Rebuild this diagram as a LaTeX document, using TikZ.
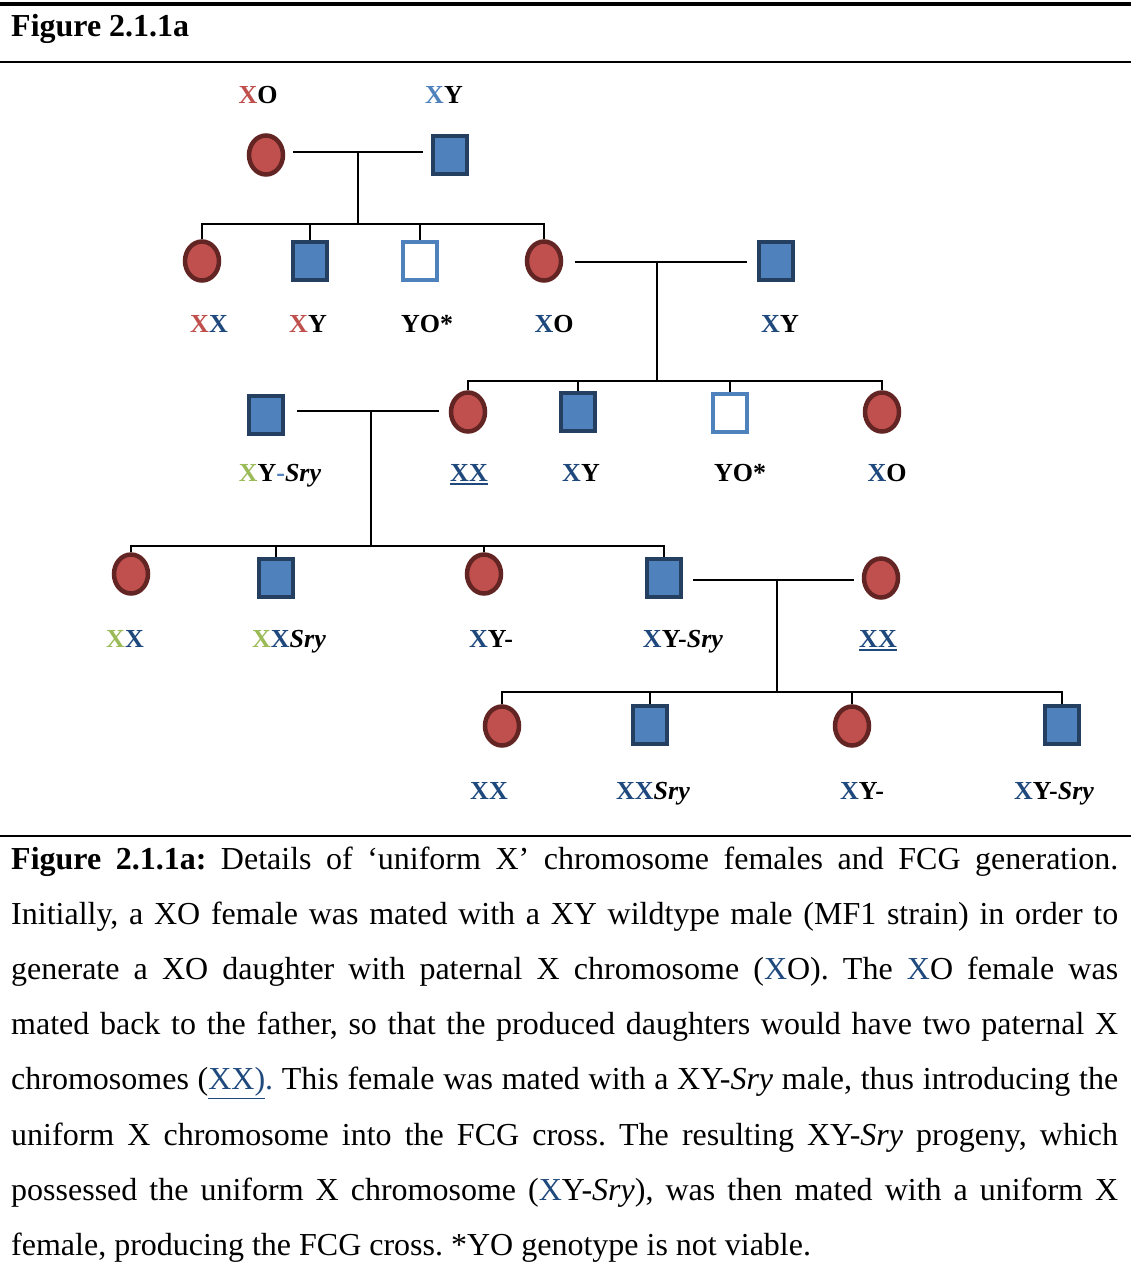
\documentclass[tikz,border=0pt]{standalone}
\usepackage{fontspec}
\setmainfont{Liberation Serif}
\usetikzlibrary{shapes.geometric}
\definecolor{redX}{HTML}{C0504D}
\definecolor{ltblue}{HTML}{4F81BD}
\definecolor{dkblue}{HTML}{1F497D}
\definecolor{grnX}{HTML}{9BBB59}
\definecolor{femline}{HTML}{632523}
\definecolor{maleline}{HTML}{243F60}
% thick coloured underline for genotype labels
\newcommand\genul[1]{\setbox0\hbox{#1}\rlap{\rule[-4pt]{\wd0}{2pt}}\box0}
\begin{document}
\begin{tikzpicture}[x=1pt,y=-1pt,
  female/.style={ellipse,draw=femline,fill=redX,line width=4.5pt,minimum width=34pt,minimum height=39pt,inner sep=0pt},
  male/.style={rectangle,draw=maleline,fill=ltblue,line width=4.5pt,minimum width=34pt,minimum height=38pt,inner sep=0pt},
  nonviable/.style={rectangle,draw=ltblue,fill=white,line width=4.5pt,minimum width=34pt,minimum height=38pt,inner sep=0pt},
  geno/.style={font=\fontsize{26}{30}\selectfont\bfseries,inner sep=0pt,anchor=base},
  link/.style={line width=2pt,black}]
\useasboundingbox (0,0) rectangle (1131,1280);

% header rules and title
\draw[line width=4pt] (0,4) -- (1131,4);
\draw[line width=2.5pt] (0,62) -- (1131,62);
\draw[line width=2pt] (0,836) -- (1131,836);
\node[anchor=base west,inner sep=0pt,font=\fontsize{32}{36}\selectfont\bfseries] (title) at (11,36) {Figure 2.1.1a};

% generation 1
\node[female] (g1f) at (266,155) {};
\node[male] (g1m) at (450,155) {};
\node[geno] (l1f) at (258,103) {\textcolor{redX}{X}O};
\node[geno] (l1m) at (444,103) {\textcolor{ltblue}{X}Y};

% generation 2
\node[female] (g2a) at (202,261) {};
\node[male] (g2b) at (310,261) {};
\node[nonviable] (g2c) at (420,261) {};
\node[female] (g2d) at (544,261) {};
\node[male] (g2m) at (776,261) {};
\node[geno] at (209,332) {\textcolor{redX}{X}\textcolor{dkblue}{X}};
\node[geno] at (308,332) {\textcolor{redX}{X}Y};
\node[geno] at (427,332) {YO*};
\node[geno] at (554,332) {\textcolor{dkblue}{X}O};
\node[geno] at (780,332) {\textcolor{dkblue}{X}Y};

% generation 3
\node[male] (g3m) at (266,415) {};
\node[female] (g3a) at (468,412) {};
\node[male] (g3b) at (578,412) {};
\node[nonviable] (g3c) at (730,413) {};
\node[female] (g3d) at (882,412) {};
\node[geno] at (280,481) {\textcolor{grnX}{X}Y\textcolor{ltblue}{-}\textit{Sry}};
\node[geno] at (469,481) {\color{dkblue}\genul{XX}};
\node[geno] at (581,481) {\textcolor{dkblue}{X}Y};
\node[geno] at (740,481) {YO*};
\node[geno] at (887,481) {\textcolor{dkblue}{X}O};

% generation 4
\node[female] (g4a) at (131,574) {};
\node[male] (g4b) at (276,578) {};
\node[female] (g4c) at (484,574) {};
\node[male] (g4d) at (664,578) {};
\node[female] (g4f) at (881,578) {};
\node[geno] at (125,647) {\textcolor{grnX}{X}\textcolor{dkblue}{X}};
\node[geno] at (289,647) {\textcolor{grnX}{X}\textcolor{dkblue}{X}\textit{Sry}};
\node[geno] at (491,647) {\textcolor{dkblue}{X}Y-};
\node[geno] at (683,647) {\textcolor{dkblue}{X}Y-\textit{Sry}};
\node[geno] at (878,647) {\color{dkblue}\genul{XX}};

% generation 5
\node[female] (g5a) at (502,726) {};
\node[male] (g5b) at (650,725) {};
\node[female] (g5c) at (852,726) {};
\node[male] (g5d) at (1062,725) {};
\node[geno] at (489,799) {\textcolor{dkblue}{XX}};
\node[geno] at (653,799) {\textcolor{dkblue}{XX}\textit{Sry}};
\node[geno] at (862,799) {\textcolor{dkblue}{X}Y-};
\node[geno] at (1054,799) {\textcolor{dkblue}{X}Y-\textit{Sry}};

% sibship levels and mating midpoints
\coordinate (s1) at (0,224);
\coordinate (s2) at (0,381);
\coordinate (s3) at (0,546);
\coordinate (s4) at (0,692);
\coordinate (m1) at (358,152);
\coordinate (m2) at (657,262);
\coordinate (m3) at (371,411);
\coordinate (m4) at (777,580);

% mating lines
\draw[link] ([xshift=8pt]g1f.east |- m1) -- ([xshift=-8pt]g1m.west |- m1);
\draw[link] ([xshift=12pt]g2d.east |- m2) -- ([xshift=-10pt]g2m.west |- m2);
\draw[link] ([xshift=12pt]g3m.east |- m3) -- ([xshift=-10pt]g3a.west |- m3);
\draw[link] ([xshift=10pt]g4d.east |- m4) -- ([xshift=-8pt]g4f.west |- m4);

% descent lines
\draw[link] (m1) -- (m1 |- s1);
\draw[link] (g2a.north) -- (g2a.north |- s1) -- (g2d.north |- s1) -- (g2d.north);
\draw[link] (g2b.north) -- (g2b.north |- s1);
\draw[link] (g2c.north) -- (g2c.north |- s1);

\draw[link] (m2) -- (m2 |- s2);
\draw[link] (g3a.north) -- (g3a.north |- s2) -- (g3d.north |- s2) -- (g3d.north);
\draw[link] (g3b.north) -- (g3b.north |- s2);
\draw[link] (g3c.north) -- (g3c.north |- s2);

\draw[link] (m3) -- (m3 |- s3);
\draw[link] (g4a.north) -- (g4a.north |- s3) -- (g4d.north |- s3) -- (g4d.north);
\draw[link] (g4b.north) -- (g4b.north |- s3);
\draw[link] (g4c.north) -- (g4c.north |- s3);

\draw[link] (m4) -- (m4 |- s4);
\draw[link] (g5a.north) -- (g5a.north |- s4) -- (g5d.north |- s4) -- (g5d.north);
\draw[link] (g5b.north) -- (g5b.north |- s4);
\draw[link] (g5c.north) -- (g5c.north |- s4);

% caption
\node[anchor=base west,inner sep=0pt,text width=1107pt,align=justify,
      font=\fontsize{32}{55.2}\selectfont\frenchspacing] (caption) at (11,869) {%
\textbf{Figure 2.1.1a:} Details of `uniform X' chromosome females and FCG generation.\linebreak
Initially, a XO female was mated with a XY wildtype male (MF1 strain) in order to\linebreak
generate a XO daughter with paternal X chromosome (\textcolor{dkblue}{X}O). The \textcolor{dkblue}{X}O female was\linebreak
mated back to the father, so that the produced daughters would have two paternal X\linebreak
chromosomes (\textcolor{dkblue}{\underline{XX)}.} This female was mated with a XY-\textit{Sry} male, thus introducing the\linebreak
uniform X chromosome into the FCG cross. The resulting XY-\textit{Sry} progeny, which\linebreak
possessed the uniform X chromosome (\textcolor{dkblue}{X}Y-\textit{Sry}), was then mated with a uniform X\linebreak
female, producing the FCG cross. *YO genotype is not viable.};
\end{tikzpicture}
\end{document}
